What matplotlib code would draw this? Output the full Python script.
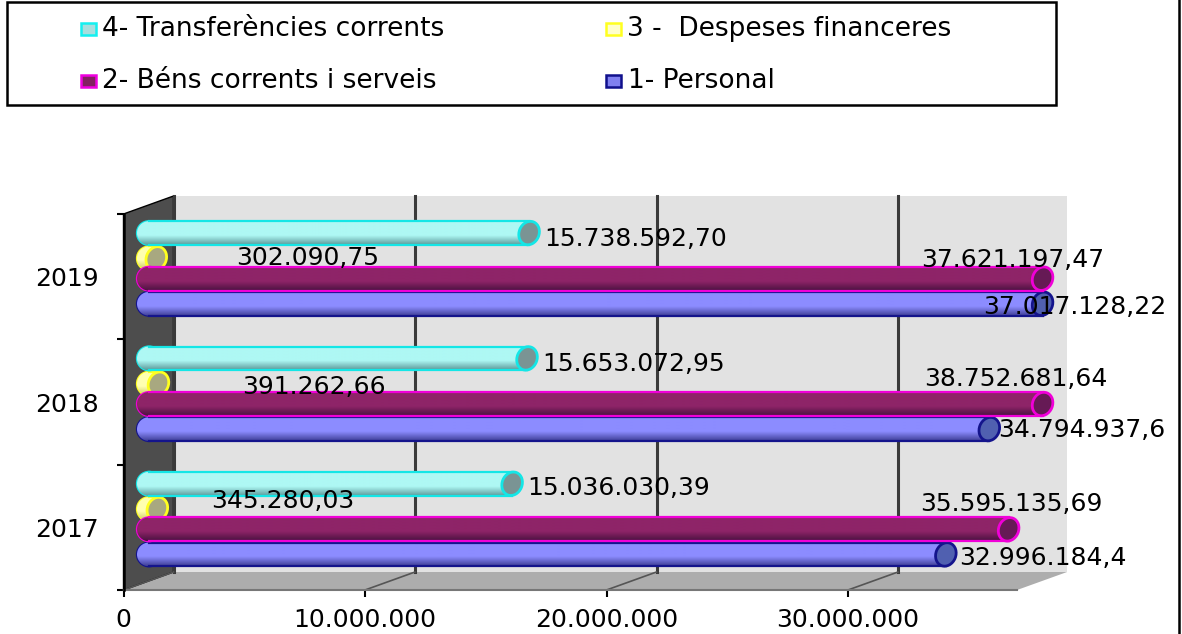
import numpy as np
import matplotlib
matplotlib.use("Agg")
import matplotlib.pyplot as plt
from matplotlib.patches import Ellipse, Polygon, Rectangle, PathPatch
from matplotlib.path import Path
from matplotlib.transforms import Affine2D

W, H = 1182, 634
plt.rcParams['font.family'] = ['DejaVu Sans']
FS = 18
FS_LEG = 19

# data, bottom to top on the chart
years = ['2017', '2018', '2019']
personal = [32996184.4, 34794937.6, 37017128.22]
bens = [35595135.69, 38752681.64, 37621197.47]
financeres = [345280.03, 391262.66, 302090.75]
transfer = [15036030.39, 15653072.95, 15738592.70]

personal_txt = ['32.996.184,4', '34.794.937,6', '37.017.128,22']
bens_txt = ['35.595.135,69', '38.752.681,64', '37.621.197,47']
financeres_txt = ['345.280,03', '391.262,66', '302.090,75']
transfer_txt = ['15.036.030,39', '15.653.072,95', '15.738.592,70']

xticks = [0, 10000000, 20000000, 30000000]
xticklabels = ['0', '10.000.000', '20.000.000', '30.000.000']
axis_max = 37000000  # longer bars get cut here

# where the labels sit in the image (px, centre)
personal_pos = [(1043, 558), (1082, 430), (1075, 307)]
bens_pos = [(1011, 504), (1016, 379), (1013, 260)]
financeres_pos = [(283, 501), (314, 387), (308, 258)]
transfer_pos = [(619, 488), (634, 364), (636, 239)]

fig = plt.figure(figsize=(W / 100, H / 100), dpi=100, facecolor='white')

# axes: x=0 at px 123.5, floor front at px 590, top tick at px 214
px_per_unit = 241.5 / 10000000
ax = fig.add_axes([123.5 / W, (H - 590) / H, (W - 123.5) / W, (590 - 214) / H])
ax.set_xlim(0, (W - 123.5) / px_per_unit)
ax.set_ylim(-0.5, 2.5)
px_per_band = 376 / 3
for s in ax.spines.values():
    s.set_visible(False)
ax.patch.set_alpha(0)

dx = 50 / px_per_unit   # chart depth in data units
dy = 18 / px_per_band
bar_dx = 25.5 / px_per_unit
bar_dy = 9 / px_per_band

# back wall, floor, side wall
ax.add_patch(Rectangle((dx, -0.5 + dy), axis_max, 3, fc='#E2E2E2', ec='none', clip_on=False, zorder=1))
ax.add_patch(Polygon([(0, -0.5), (axis_max, -0.5), (axis_max + dx, -0.5 + dy), (dx, -0.5 + dy)],
                     fc='#ADADAD', ec='none', clip_on=False, zorder=1))
ax.add_patch(Polygon([(0, -0.5), (dx, -0.5 + dy), (dx, 2.5 + dy), (0, 2.5)],
                     fc='#4D4D4D', ec='black', lw=1, clip_on=False, zorder=2))

# gridlines on the wall and floor
for t in xticks:
    ax.plot([t + dx, t + dx], [-0.5 + dy, 2.5 + dy], color='#3A3A3A', lw=2.2, zorder=2, clip_on=False)
    ax.plot([t, t + dx], [-0.5, -0.5 + dy], color='#555555', lw=1.2, zorder=2, clip_on=False)
ax.plot([0, axis_max], [-0.5, -0.5], color='#777777', lw=1.5, zorder=2, clip_on=False)
ax.plot([0, 0], [-0.5, 2.5], color='black', lw=1.8, zorder=2.5, clip_on=False)

ax.set_xticks(xticks)
ax.set_xticklabels(xticklabels, fontsize=FS)
ax.tick_params(axis='x', length=5, width=1.5, pad=8)
ax.set_yticks([0, 1, 2])
ax.set_yticklabels(years, fontsize=FS)
ax.tick_params(axis='y', which='major', length=0, pad=18)
ax.set_yticks([-0.5, 0.5, 1.5, 2.5], minor=True)
ax.tick_params(axis='y', which='minor', length=5, width=1.5)


def cylinder(value, y, top, bottom, edge, cap, z):
    """one horizontal 3D cylinder, gradient body plus tilted end cap"""
    v = min(value, axis_max)
    x0 = bar_dx
    x1 = bar_dx + v
    yc = y + bar_dy
    h = 0.19
    r = 12 / px_per_unit
    # body outline: rounded on the left
    rect = Path.unit_rectangle().transformed(Affine2D().scale(x1 - x0, h).translate(x0, yc - h / 2))
    circ = Path.unit_circle().transformed(Affine2D().scale(r, h / 2).translate(x0, yc))
    outline = Path.make_compound_path(rect, circ)
    t = np.linspace(0, 1, 32)
    top_c = np.array(matplotlib.colors.to_rgb(top))
    bot_c = np.array(matplotlib.colors.to_rgb(bottom))
    # flat colour through the upper part, dark toward the lower edge
    grad = np.array([top_c * (1 - max(0, s - 0.6) / 0.4) + bot_c * max(0, s - 0.6) / 0.4 for s in t])
    im = ax.imshow(grad[:, None, :], extent=(x0 - r, x1, yc - h / 2, yc + h / 2), origin='upper',
                   aspect='auto', zorder=z, interpolation='bilinear')
    clip = PathPatch(outline, transform=ax.transData, fc='none', ec='none')
    ax.add_patch(clip)
    im.set_clip_path(clip)
    # edge lines along the body and the round left end
    ax.plot([x0, x1], [yc + h / 2, yc + h / 2], color=edge, lw=1.6, zorder=z + 0.1)
    ax.plot([x0, x1], [yc - h / 2, yc - h / 2], color=edge, lw=1.6, zorder=z + 0.1)
    ax.add_patch(Ellipse((x0, yc), 2 * r, h, fc='none', ec=edge, lw=1.6, zorder=z - 0.1))
    # end cap, tilted; placed in pixels so the tilt is not stretched by the axes
    px, py = ax.transData.transform((x1, yc))
    ax.add_patch(Ellipse((0, 0), 20, 24, angle=-22, fc=cap, ec=edge, lw=2,
                         transform=Affine2D().translate(px, py), zorder=z + 0.2))


offsets = [-0.288, -0.088, 0.074, 0.276]  # blue, magenta, yellow, cyan inside a band
for i in range(len(years)):
    cylinder(financeres[i], i + offsets[2], '#FFFFB0', '#C8C860', '#FFFF20', '#A8A880', 3)
    cylinder(personal[i], i + offsets[0], '#8C8CFF', '#404098', '#14148C', '#5060B0', 4)
    cylinder(bens[i], i + offsets[1], '#8E2468', '#4A1240', '#F000D8', '#661A55', 5)
    cylinder(transfer[i], i + offsets[3], '#AEF8F4', '#5E9C9C', '#14E6E6', '#7A9494', 6)


def label(s, pos):
    fig.text(pos[0] / W, 1 - pos[1] / H, s, fontsize=FS, ha='center', va='center', color='black', zorder=20)


for i in range(len(years)):
    label(personal_txt[i], personal_pos[i])
    label(bens_txt[i], bens_pos[i])
    label(financeres_txt[i], financeres_pos[i])
    label(transfer_txt[i], transfer_pos[i])

# legend box, drawn by hand because the columns are not evenly spaced
fig.add_artist(Rectangle((7 / W, 1 - 105 / H), 1049 / W, 103 / H, transform=fig.transFigure,
                         fc='white', ec='black', lw=1.8))
legend_items = [
    ('4- Transferències corrents', 81, 102, 29, '#A8DEDE', '#14F0F0'),
    ('3 -  Despeses financeres', 606, 627, 29, '#FFFFCC', '#FFFF20'),
    ('2- Béns corrents i serveis', 81, 102, 81, '#832060', '#F000E0'),
    ('1- Personal', 606, 628, 81, '#8080F0', '#10108C'),
]
for name, sx, tx, sy, fc, ec in legend_items:
    fig.add_artist(Rectangle((sx / W, 1 - (sy + 6) / H), 15 / W, 12 / H, transform=fig.transFigure,
                             fc=fc, ec=ec, lw=1.8))
    fig.text(tx / W, 1 - sy / H, name, fontsize=FS_LEG, ha='left', va='center')

# outer chart frame on the right
fig.add_artist(plt.Line2D([1179 / W, 1179 / W], [0, 1], color='black', lw=1.8, transform=fig.transFigure))

fig.savefig('out.png', dpi=100)
